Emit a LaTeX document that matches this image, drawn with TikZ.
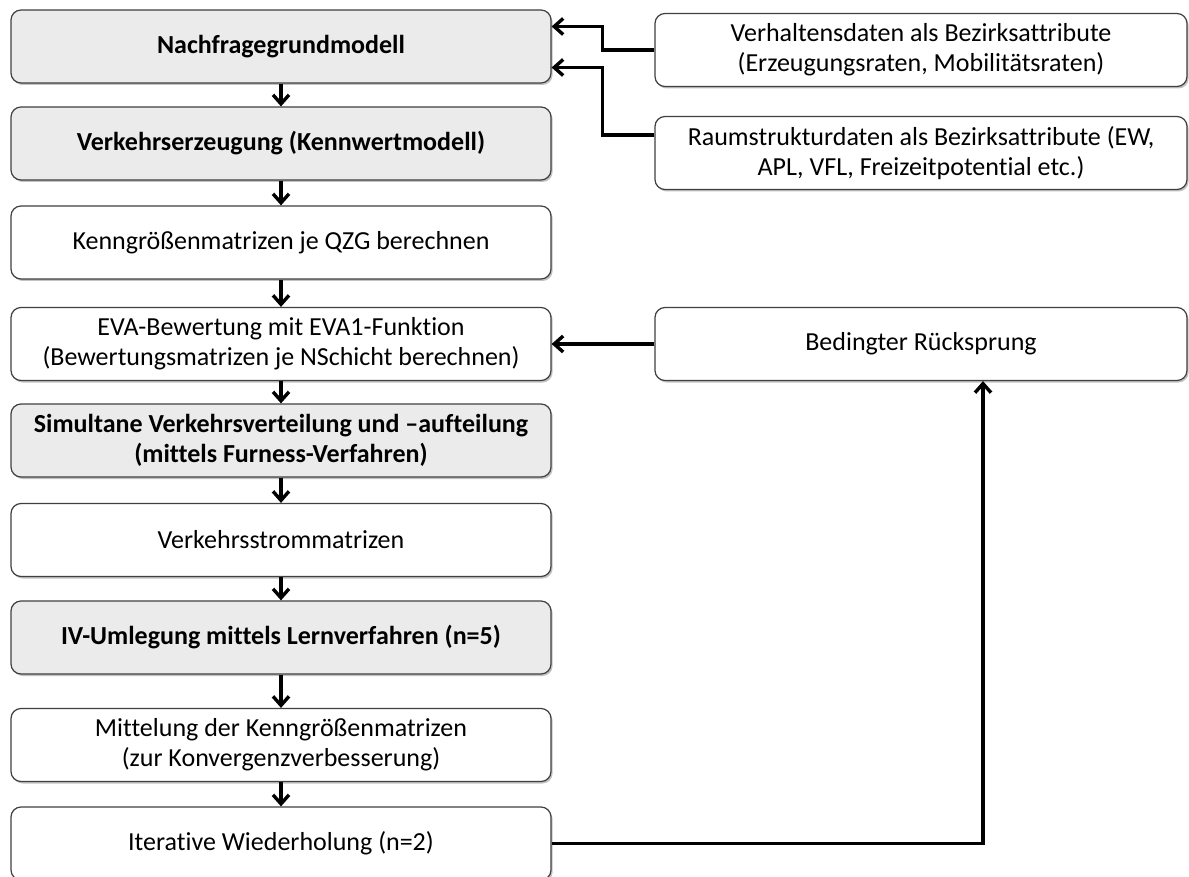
\documentclass[tikz,border=0pt]{standalone}
\usepackage{fontspec}
\setmainfont[Ligatures=CommonOff]{Carlito}
\usepackage{tikz}
\usetikzlibrary{arrows.meta,shapes,shadows,calc}

\begin{document}
\begin{tikzpicture}[x=0.5pt,y=-0.5pt,
        box/.style={draw=black!75, line width=0.6pt, rounded corners=5pt, fill=white,
            minimum width=270pt, minimum height=36.5pt, align=center,
            font=\fontsize{13}{15}\selectfont,
            drop shadow={shadow xshift=0.8pt, shadow yshift=-1pt, opacity=0.4, fill=black!60}},
        graybox/.style={box, fill=black!8, font=\fontsize{13}{15}\selectfont\bfseries},
        sidebox/.style={box, minimum width=266pt, minimum height=36.5pt},
        arr/.style={-{Straight Barb[length=4.5pt,width=8pt]}, line width=1.7pt}]
        \useasboundingbox (0,0) rectangle (1189,877);
        %\draw[help lines] (0,0) grid[step=50] (1189,877);
        \node[graybox] (n1) at (281,46.5) {Nachfragegrundmodell};
        \node[graybox] (n2) at (281,143.5) {Verkehrserzeugung (Kennwertmodell)};
        \node[box] (n3) at (281,242.5) {Kenngrößenmatrizen je QZG berechnen};
        \node[box] (n4) at (281,344) {EVA-Bewertung mit EVA1-Funktion\\(Bewertungsmatrizen je NSchicht berechnen)};
        \node[graybox] (n5) at (281,440.5) {Simultane Verkehrsverteilung und –aufteilung\\(mittels Furness-Verfahren)};
        \node[box] (n6) at (281,540) {Verkehrsstrommatrizen};
        \node[graybox] (n7) at (281,637.5) {IV-Umlegung mittels Lernverfahren (n=5)};
        \node[box] (n8) at (281,745) {Mittelung der Kenngrößenmatrizen\\(zur Konvergenzverbesserung)};
        \node[box] (n9) at (281,843.5) {Iterative Wiederholung (n=2)};
        \node[sidebox] (r1) at (921,50) {Verhaltensdaten als Bezirksattribute\\(Erzeugungsraten, Mobilitätsraten)};
        \node[sidebox] (r2) at (921,153) {Raumstrukturdaten als Bezirksattribute (EW,\\APL, VFL, Freizeitpotential etc.)};
        \node[sidebox] (r3) at (921,344) {Bedingter Rücksprung};
        \foreach \a/\b in {n1/n2, n2/n3, n3/n4, n4/n5, n5/n6, n6/n7, n7/n8, n8/n9}
            \draw[arr] (\a) -- (\b);
        \draw[arr] (r1.west) -- ++(-52,0) |- ($(n1.east)+(0,-20)$);
        \draw[arr] ($(r2.west)+(0,-18)$) -- ++(-52,0) |- ($(n1.east)+(0,21)$);
        \draw[arr] (r3) -- (n4);
        \draw[arr] (n9.east) -| ($(r3.south)+(62,0)$);
    \end{tikzpicture}
\end{document}
